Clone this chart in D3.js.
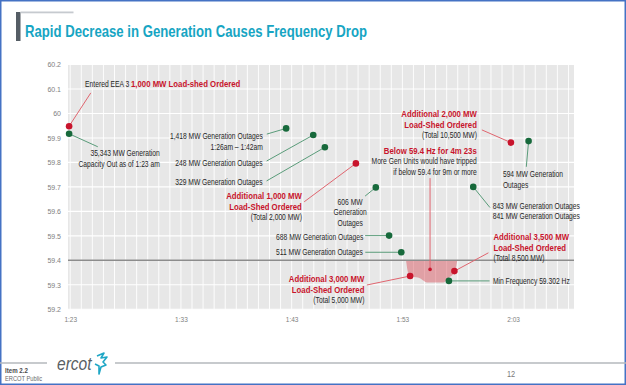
<!DOCTYPE html>
<html>
<head>
<meta charset="utf-8">
<script src="https://cdn.jsdelivr.net/npm/d3@7"></script>
<style>
body { margin: 0; background: #fff; }
text { font-family: "Liberation Sans", Arial, sans-serif; }
</style>
</head>
<body>
<svg id="chart" width="626" height="385"></svg>
<script>
// times are minutes after midnight (1:23 = 83)
const xTickTimes = [83, 93, 103, 113, 123];
const xTickLabels = ["1:23", "1:33", "1:43", "1:53", "2:03"];
const yTicks = [59.2, 59.3, 59.4, 59.5, 59.6, 59.7, 59.8, 59.9, 60.0, 60.1, 60.2];
const limitFreq = 59.4;

// load shed orders (red)
const shedTimes = [82.9, 108.8, 113.7, 117.7, 122.8];
const shedFreqs = [59.948, 59.796, 59.336, 59.356, 59.881];
const shedNotes = [
    ["Entered EEA 3 |*1,000 MW Load-shed Ordered"],
    ["*Additional 1,000 MW", "*Load-Shed Ordered", "(Total 2,000 MW)"],
    ["*Additional 3,000 MW", "*Load-Shed Ordered", "(Total 5,000 MW)"],
    ["*Additional 3,500 MW", "*Load-Shed Ordered", "(Total 8,500 MW)"],
    ["*Additional 2,000 MW", "*Load-Shed Ordered", "(Total 10,500 MW)"]
];

// generation outages (green)
const genTimes = [82.9, 102.5, 104.95, 106.0, 110.6, 111.8, 112.9, 117.2, 119.4, 124.4];
const genFreqs = [59.917, 59.939, 59.912, 59.862, 59.698, 59.501, 59.433, 59.316, 59.70, 59.887];
const genNotes = [
    ["35,343 MW Generation", "Capacity Out as of 1:23 am"],
    ["1,418 MW Generation Outages", "1:26am \u2013 1:42am"],
    ["248 MW Generation Outages"],
    ["329 MW Generation Outages"],
    ["606 MW", "Generation", "Outages"],
    ["688 MW Generation Outages"],
    ["511 MW Generation Outages"],
    ["Min Frequency 59.302 Hz"],
    ["843 MW Generation Outages", "841 MW Generation Outages"],
    ["594 MW Generation", "Outages"]
];

// frequency below 59.4
const dipTimes = [113.33, 113.54, 113.87, 114.59, 115.04, 115.22, 116.67, 117.15, 117.75, 117.96];
const dipFreqs = [59.4, 59.347, 59.334, 59.327, 59.313, 59.309, 59.309, 59.327, 59.354, 59.4];
const belowTime = 115.5, belowFreq = 59.363;
const belowNote = ["*Below 59.4 Hz for 4m 23s", "More Gen Units would have tripped", "if below 59.4 for 9m or more"];

// label placement, pixel offsets from the dot
const shedLayout = [
    {dx: 16, dy: -39, anchor: "start", lx: 21.7, ly: -33.3},
    {dx: -54, dy: 35.7, anchor: "end", lx: -51.7, ly: 38.4},
    {dx: -45.7, dy: 6, anchor: "end", lx: -43.3, ly: 9},
    {dx: 39, dy: -30.7, anchor: "start", lx: 34, ly: -18.3},
    {dx: -34, dy: -25.4, anchor: "end", lx: -29, ly: -12.7}
];
const genLayout = [
    {dx: 90.7, dy: 22.6, anchor: "end", lx: 28.7, ly: 13},
    {dx: -23.3, dy: 10.7, anchor: "end", lx: -19.3, ly: 5.7},
    {dx: -50.6, dy: 31.3, anchor: "end", lx: -46.6, ly: 26},
    {dx: -62.3, dy: 37.7, anchor: "end", lx: -58.3, ly: 33.7},
    {dx: -25.7, dy: 17.4, anchor: "middle", lx: -10.7, ly: 8.7},
    {dx: -25.7, dy: 4, anchor: "end", lx: -24, ly: 0},
    {dx: -38.5, dy: 3, anchor: "end", lx: -36, ly: 0},
    {dx: 44, dy: 3, anchor: "start", lx: 40.7, ly: 0},
    {dx: 19.4, dy: 22, anchor: "start", lx: 16.7, ly: 20.6},
    {dx: -25.7, dy: 36, anchor: "start", lx: -2.3, ly: 25.7}
];
const belowLayout = {dx: 46.7, dy: -115.6, anchor: "end", lx: 0, ly: -91.3};

const width = 626, height = 385;
const plot = {left: 68, right: 574, top: 64.5, bottom: 309.3};
const narrow = 0.82;
const red = "#c8142c", green = "#17693b";

const svg = d3.select("#chart");

svg.append("rect")
    .attr("x", 0.75).attr("y", 0.75)
    .attr("width", width - 1.5).attr("height", height - 1.5)
    .attr("fill", "#fff")
    .attr("stroke", "#4472c4")
    .attr("stroke-width", 1.5);

// title
svg.append("rect").attr("x", 16).attr("y", 12).attr("width", 4.5).attr("height", 29).attr("fill", "#555d65");
svg.append("rect").attr("x", 20.5).attr("y", 11.5).attr("width", 53).attr("height", 1.8).attr("fill", "#c6cacf");
svg.append("text")
    .attr("x", 25).attr("y", 37)
    .attr("font-size", 16.5)
    .attr("font-weight", "bold")
    .attr("fill", "#17a5c3")
    .attr("textLength", 342)
    .attr("lengthAdjust", "spacingAndGlyphs")
    .text("Rapid Decrease in Generation Causes Frequency Drop");

const xScale = d3.scaleLinear().domain([82.8, 128.5]).range([plot.left, plot.right]);
const yScale = d3.scaleLinear().domain([59.2, 60.2]).range([plot.bottom, plot.top]);

const g = svg.append("g");

g.append("rect")
    .attr("x", plot.left).attr("y", plot.top)
    .attr("width", plot.right - plot.left)
    .attr("height", plot.bottom - plot.top)
    .attr("fill", "#e7e7e7");

// grid
g.selectAll(".vgrid")
    .data(d3.range(83, 129))
    .enter()
    .append("line")
    .attr("class", "vgrid")
    .attr("x1", d => xScale(d)).attr("x2", d => xScale(d))
    .attr("y1", plot.top).attr("y2", plot.bottom)
    .attr("stroke", "#fff")
    .attr("stroke-width", 0.9);
g.selectAll(".hgrid")
    .data(yTicks)
    .enter()
    .append("line")
    .attr("class", "hgrid")
    .attr("x1", plot.left).attr("x2", plot.right)
    .attr("y1", d => yScale(d)).attr("y2", d => yScale(d))
    .attr("stroke", "#fff")
    .attr("stroke-width", 1.1);

// axes
const yAxis = d3.axisLeft(yScale).tickValues(yTicks).tickSize(0).tickPadding(7)
    .tickFormat(d => String(+d.toFixed(1)));
const xAxis = d3.axisBottom(xScale).tickValues(xTickTimes).tickSize(0).tickPadding(8)
    .tickFormat((d, i) => xTickLabels[i]);

const yg = svg.append("g").attr("transform", `translate(${plot.left},0)`).call(yAxis);
const xg = svg.append("g").attr("transform", `translate(0,${plot.bottom})`).call(xAxis);
[yg, xg].forEach(a => {
    a.select(".domain").remove();
    a.selectAll("text")
        .attr("fill", "#808080")
        .attr("font-family", "'Liberation Sans', Arial, sans-serif");
});
yg.selectAll("text").attr("font-size", 7).attr("dy", "0.32em");
xg.selectAll("text").attr("font-size", 6.5);

// shaded area below 59.4
const dip = dipTimes.map((t, i) => ({t: t, f: dipFreqs[i]}));
const area = d3.area()
    .x(d => xScale(d.t))
    .y0(yScale(limitFreq))
    .y1(d => yScale(d.f))
    .curve(d3.curveMonotoneX);
g.append("path")
    .datum(dip)
    .attr("d", area)
    .attr("fill", "#d84a55")
    .attr("fill-opacity", 0.45);

g.append("line")
    .attr("x1", plot.left).attr("x2", plot.right)
    .attr("y1", yScale(limitFreq)).attr("y2", yScale(limitFreq))
    .attr("stroke", "#8c8c8c")
    .attr("stroke-width", 1.5);

const shed = shedTimes.map((t, i) => ({t: t, f: shedFreqs[i], note: shedNotes[i], lay: shedLayout[i], kind: "shed"}));
const gen = genTimes.map((t, i) => ({t: t, f: genFreqs[i], note: genNotes[i], lay: genLayout[i], kind: "gen"}));
const below = [{t: belowTime, f: belowFreq, note: belowNote, lay: belowLayout, kind: "below"}];
const events = below.concat(shed, gen);

// leader lines
g.selectAll(".leader")
    .data(events)
    .enter()
    .append("line")
    .attr("class", "leader")
    .attr("x1", d => xScale(d.t)).attr("y1", d => yScale(d.f))
    .attr("x2", d => xScale(d.t) + d.lay.lx)
    .attr("y2", d => yScale(d.f) + d.lay.ly)
    .attr("stroke", d => d.kind == "gen" ? "#5a9c7a" : "#e0656f")
    .attr("stroke-width", 1);

// dots
g.selectAll(".dot")
    .data(events)
    .enter()
    .append("circle")
    .attr("class", "dot")
    .attr("cx", d => xScale(d.t))
    .attr("cy", d => yScale(d.f))
    .attr("r", d => d.kind == "below" ? 1.8 : 3.3)
    .attr("fill", d => d.kind == "gen" ? green : red);

// labels
const lineH = 10.5;
events.forEach(d => {
    const px = xScale(d.t) + d.lay.dx;
    const py = yScale(d.f) + d.lay.dy;
    d.note.forEach((line, i) => {
        const txt = svg.append("text")
            .attr("transform", `translate(${px},${py + i * lineH}) scale(${narrow},1)`)
            .attr("text-anchor", d.lay.anchor);
        line.split("|").forEach(seg => {
            const strong = seg[0] == "*";
            txt.append("tspan")
                .attr("font-size", strong ? 9.5 : 8.2)
                .attr("font-weight", strong ? "bold" : "normal")
                .attr("fill", strong ? red : "#262626")
                .text(strong ? seg.slice(1) : seg);
        });
    });
});

// footer
svg.append("line").attr("x1", 0).attr("x2", 47).attr("y1", 363).attr("y2", 363)
    .attr("stroke", "#b5b9bd").attr("stroke-width", 1.5);
svg.append("line").attr("x1", 115).attr("x2", width).attr("y1", 363).attr("y2", 363)
    .attr("stroke", "#b5b9bd").attr("stroke-width", 1.5);
svg.append("text")
    .attr("transform", "translate(57,370) scale(0.82,1)")
    .attr("font-size", 19)
    .attr("font-style", "italic")
    .attr("fill", "#5a5f64")
    .text("ercot");
svg.append("path")
    .attr("d", "M97,356 L104,353 L101,358 L107,357 L103,362 L106,365 L101,367 L99,374 L99,366 L95,364")
    .attr("fill", "none")
    .attr("stroke", "#1fa7c6")
    .attr("stroke-width", 1.6)
    .attr("stroke-linejoin", "round");
svg.append("text")
    .attr("transform", "translate(5,373) scale(0.82,1)")
    .attr("font-size", 7.5).attr("font-weight", "bold").attr("fill", "#4a4a4a")
    .text("Item 2.2");
svg.append("text")
    .attr("transform", "translate(5,381) scale(0.82,1)")
    .attr("font-size", 7).attr("fill", "#6a6a6a")
    .text("ERCOT Public");
svg.append("text")
    .attr("transform", "translate(507,377) scale(0.82,1)")
    .attr("font-size", 9).attr("fill", "#7a7a7a")
    .text("12");
</script>
</body>
</html>
